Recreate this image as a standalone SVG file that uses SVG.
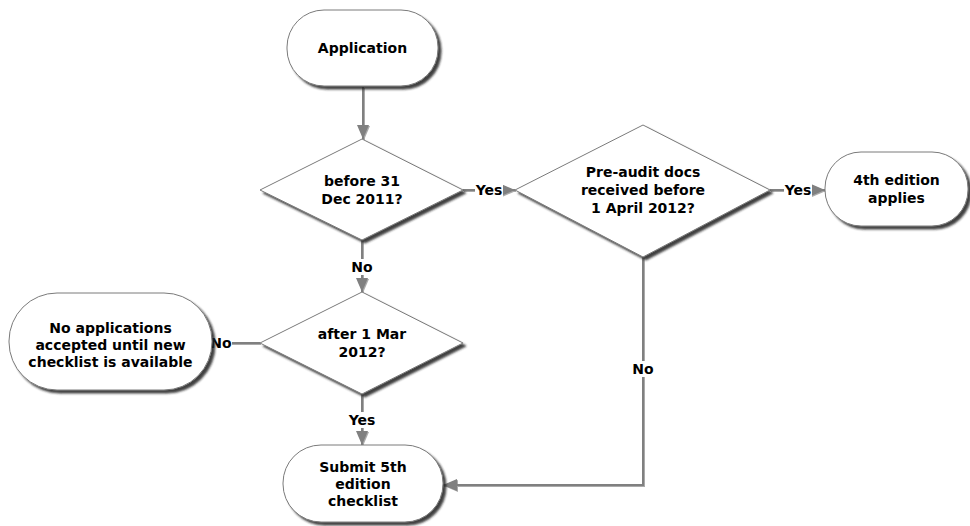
<svg xmlns="http://www.w3.org/2000/svg" width="970" height="526" viewBox="0 0 970 526">
<style>
.node{fill:#fff;stroke:#7a7a7a;stroke-width:1;filter:url(#sh)}
.t{font-family:"DejaVu Sans",Verdana,sans-serif;font-weight:bold;font-size:14px;fill:#000;text-anchor:middle}
.c{fill:none;stroke:#808080;stroke-width:2;filter:url(#lsh)}
.lb{fill:#fff}
</style>
<defs>
<filter id="sh" x="-10%" y="-10%" width="130%" height="130%">
<feDropShadow dx="3" dy="3" stdDeviation="1.2" flood-color="#222" flood-opacity="0.85"/>
</filter>
<filter id="lsh" filterUnits="userSpaceOnUse" x="0" y="0" width="970" height="526">
<feDropShadow dx="1" dy="1" stdDeviation="0.5" flood-color="#555" flood-opacity="0.5"/>
</filter>
<marker id="ah" markerUnits="userSpaceOnUse" markerWidth="16" markerHeight="12" refX="14" refY="6" orient="auto">
<path d="M0,0 L14,6 L0,12 Z" fill="#808080"/>
</marker>
</defs>
<rect width="970" height="526" fill="#fff"/>
<g id="connectors">
<path class="c" d="M363,87 V139" marker-end="url(#ah)"/>
<path class="c" d="M463,190 H515" marker-end="url(#ah)"/>
<path class="c" d="M770,190 H825" marker-end="url(#ah)"/>
<path class="c" d="M362,240 V292" marker-end="url(#ah)"/>
<path class="c" d="M260,343 H212"/>
<path class="c" d="M362,394 V445" marker-end="url(#ah)"/>
<path class="c" d="M643,257 V485 H443" marker-end="url(#ah)"/>
<g id="labels">
<rect class="lb" x="475" y="182" width="28" height="16"/>
<text class="t" x="489" y="195">Yes</text>
<rect class="lb" x="784" y="182" width="28" height="16"/>
<text class="t" x="798" y="195">Yes</text>
<rect class="lb" x="351" y="259" width="22" height="16"/>
<text class="t" x="362" y="272">No</text>
<rect class="lb" x="210" y="335" width="22" height="16"/>
<text class="t" x="221" y="348">No</text>
<rect class="lb" x="348" y="412" width="28" height="16"/>
<text class="t" x="362" y="425">Yes</text>
<rect class="lb" x="632" y="361" width="22" height="16"/>
<text class="t" x="643" y="374">No</text>
</g>
</g>
<g id="application">
<rect class="node" x="287" y="10" width="151" height="76" rx="37" ry="37"/>
<text class="t" x="362.5" y="53">Application</text>
</g>
<g id="before2011">
<polygon class="node" points="362,139 463,190 362,240 260,190"/>
<text class="t" x="362" y="186">before 31</text>
<text class="t" x="362" y="204">Dec 2011?</text>
</g>
<g id="preaudit">
<polygon class="node" points="643,125 770,190 643,257 515,190"/>
<text class="t" x="643" y="177">Pre-audit docs</text>
<text class="t" x="643" y="195">received before</text>
<text class="t" x="643" y="213">1 April 2012?</text>
</g>
<g id="fourth">
<rect class="node" x="825" y="152" width="143" height="74" rx="36" ry="36"/>
<text class="t" x="896.5" y="185">4th edition</text>
<text class="t" x="896.5" y="203">applies</text>
</g>
<g id="after2012">
<polygon class="node" points="362,292 463,343 362,394 260,343"/>
<text class="t" x="362" y="339">after 1 Mar</text>
<text class="t" x="362" y="357">2012?</text>
</g>
<g id="noapps">
<rect class="node" x="9" y="293" width="203" height="97" rx="48" ry="48"/>
<text class="t" x="110.5" y="333">No applications</text>
<text class="t" x="110.5" y="350">accepted until new</text>
<text class="t" x="110.5" y="367">checklist is available</text>
</g>
<g id="submit">
<rect class="node" x="283" y="445" width="160" height="77" rx="38" ry="38"/>
<text class="t" x="363" y="472">Submit 5th</text>
<text class="t" x="363" y="489">edition</text>
<text class="t" x="363" y="506">checklist</text>
</g>
</svg>
